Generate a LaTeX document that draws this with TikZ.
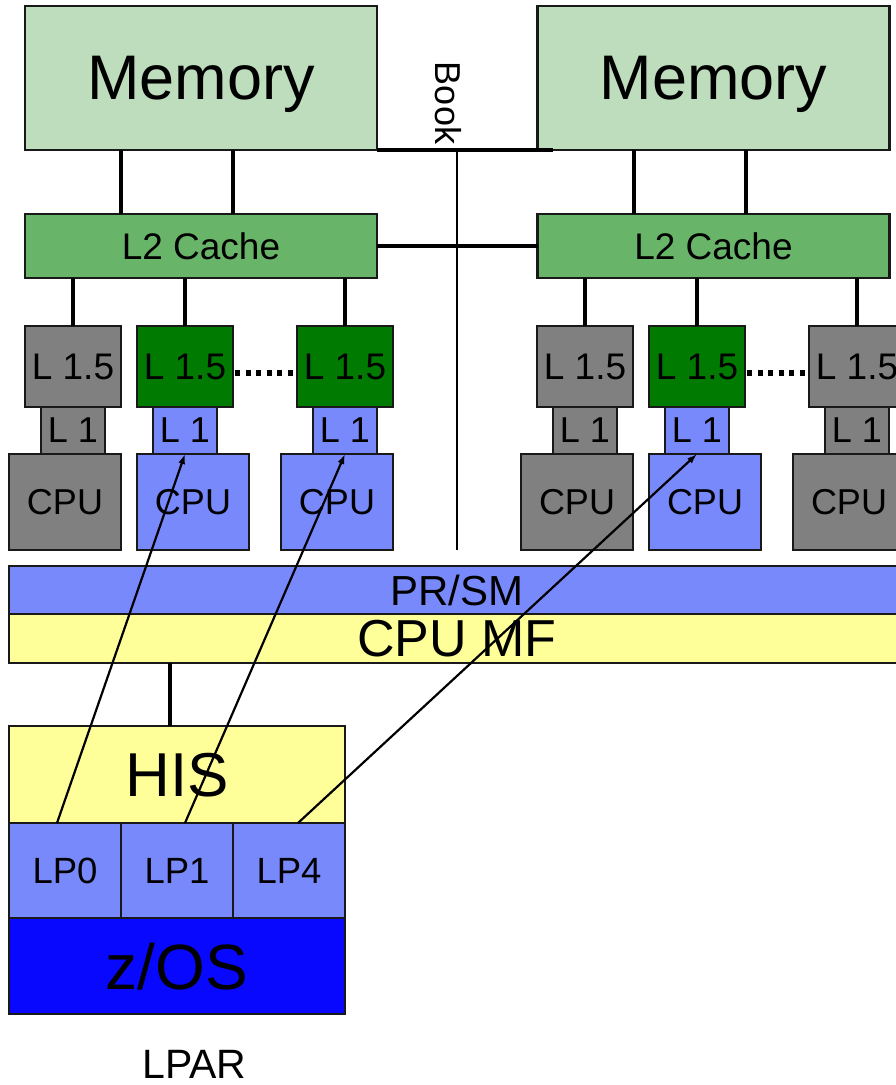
\documentclass[tikz,border=0pt]{standalone}
\usepackage{fontspec}
\setmainfont{Liberation Sans}
\usetikzlibrary{calc,arrows.meta}
\definecolor{memgreen}{RGB}{189,221,189}
\definecolor{ltwogreen}{RGB}{104,180,104}
\definecolor{darkgr}{RGB}{0,122,0}
\definecolor{boxgray}{RGB}{128,128,128}
\definecolor{lightblue}{RGB}{120,137,252}
\definecolor{paleyellow}{RGB}{255,255,153}
\definecolor{zosblue}{RGB}{8,8,255}
\newcommand{\fs}[1]{\fontsize{#1}{#1}\selectfont}
\tikzset{
  box/.style={draw=black!90, line width=2.4pt, inner sep=0pt, outer sep=0pt, anchor=center, text depth=0pt},
  membox/.style={box, fill=memgreen, minimum width=352, minimum height=144, font=\fs{63}},
  ltwobox/.style={box, fill=ltwogreen, minimum width=352, minimum height=64, font=\fs{37}},
  lofbox/.style={box, minimum width=96, minimum height=81, font=\fs{37}},
  lonebox/.style={box, minimum width=64, minimum height=47, font=\fs{36}},
  cpubox/.style={box, minimum width=112, minimum height=96, font=\fs{36}},
  lpbox/.style={box, fill=lightblue, minimum width=112, minimum height=95, font=\fs{36.5}},
  bus/.style={line width=4pt, black},
  dotline/.style={line width=5.5pt, black, dash pattern=on 5pt off 5.5pt},
  hwarrow/.style={line width=2.2pt, black, -{Latex[length=10pt,width=7pt]}},
}
\begin{document}
\begin{tikzpicture}[x=1pt,y=-1pt]
\useasboundingbox (0,0) rectangle (896,1085);
% Memory
\node[membox] (memL) at (201,78) {Memory};
\node[membox] (memR) at (713.5,78) {Memory};
% L2
\node[ltwobox] (l2L) at (201,246) {L2 Cache};
\node[ltwobox] (l2R) at (713.5,246) {L2 Cache};
% L1.5
\node[lofbox, fill=boxgray] (lfa) at (73,366.5) {L 1.5};
\node[lofbox, fill=darkgr] (lfb) at (185,366.5) {L 1.5};
\node[lofbox, fill=darkgr] (lfc) at (345,366.5) {L 1.5};
\node[lofbox, fill=boxgray] (lfd) at (585,366.5) {L 1.5};
\node[lofbox, fill=darkgr] (lfe) at (697,366.5) {L 1.5};
\node[lofbox, fill=boxgray] (lff) at (857,366.5) {L 1.5};
% L1
\node[lonebox, fill=boxgray] (loa) at (73,430.5) {L 1};
\node[lonebox, fill=lightblue] (lob) at (185,430.5) {L 1};
\node[lonebox, fill=lightblue] (loc) at (345,430.5) {L 1};
\node[lonebox, fill=boxgray] (lod) at (585,430.5) {L 1};
\node[lonebox, fill=lightblue] (loe) at (697,430.5) {L 1};
\node[lonebox, fill=boxgray] (lof) at (857,430.5) {L 1};
% CPU
\node[cpubox, fill=boxgray] (ca) at (65,502) {CPU};
\node[cpubox, fill=lightblue] (cb) at (193,502) {CPU};
\node[cpubox, fill=lightblue] (cc) at (337,502) {CPU};
\node[cpubox, fill=boxgray] (cd) at (577,502) {CPU};
\node[cpubox, fill=lightblue] (ce) at (705,502) {CPU};
\node[cpubox, fill=boxgray] (cf) at (849,502) {CPU};
% PR/SM and CPU MF
\node[box, fill=lightblue, minimum width=896, minimum height=48, font=\fs{42}] (prsm) at (457,590) {PR/SM};
\node[box, fill=paleyellow, minimum width=896, minimum height=49, font=\fs{52}] (cpumf) at (457,638.5) {CPU MF};
% LPAR
\node[box, fill=paleyellow, minimum width=336, minimum height=97, font=\fs{62}] (his) at (177,774.5) {HIS};
\node[lpbox] (lp0) at (65,870.5) {LP0};
\node[lpbox] (lp1) at (177,870.5) {LP1};
\node[lpbox] (lp4) at (289,870.5) {LP4};
\node[box, fill=zosblue, minimum width=336, minimum height=96, font=\fs{64}] (zos) at (177,966) {z/OS};
\node[font=\fs{41}, inner sep=0pt, text depth=0pt] (lpar) at (194.5,1064) {LPAR};
% Book
\node[font=\fs{36}, rotate=-90, inner sep=0pt] (book) at (448,103) {Book};
\coordinate (booktop) at (457,150);
\coordinate (bookend) at (553,150);
\coordinate (bookbot) at (457,550);
\draw[line width=1.8pt] (booktop) -- (bookbot);
\draw[bus] (memL.south east) -- (bookend);
% Memory - L2
\draw[bus] ($(memL.south west)+(96,0)$) -- ($(l2L.north west)+(96,0)$);
\draw[bus] ($(memL.south west)+(208,0)$) -- ($(l2L.north west)+(208,0)$);
\draw[bus] ($(memR.south west)+(96,0)$) -- ($(l2R.north west)+(96,0)$);
\draw[bus] ($(memR.south west)+(208,0)$) -- ($(l2R.north west)+(208,0)$);
\draw[bus] (l2L.east) -- (l2R.west);
% L2 - L1.5
\foreach \n in {lfa,lfb,lfc}{\draw[bus] (\n.north |- l2L.south) -- (\n.north);}
\foreach \n in {lfd,lfe,lff}{\draw[bus] (\n.north |- l2R.south) -- (\n.north);}
% dotted
\draw[dotline] ([yshift=-6.5pt,xshift=2pt]lfb.east) -- ([yshift=-6.5pt]lfc.west);
\draw[dotline] ([yshift=-6.5pt,xshift=2pt]lfe.east) -- ([yshift=-6.5pt]lff.west);
% CPU MF - HIS
\draw[bus] (his.north -| 170,0) -- (cpumf.south -| 170,0);
% arrows
\draw[hwarrow] ($(lp0.north)+(-8,0)$) -- (lob.south);
\draw[hwarrow] ($(lp1.north)+(8,0)$) -- (loc.south);
\draw[hwarrow] ($(lp4.north)+(9,0)$) -- (loe.south);
\end{tikzpicture}
\end{document}
